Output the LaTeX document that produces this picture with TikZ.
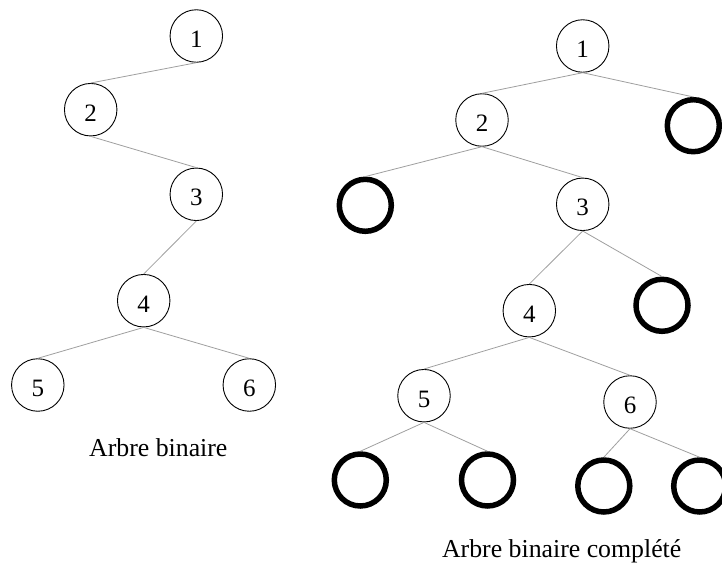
\documentclass[tikz,border=0pt]{standalone}
\usepackage{fontspec}
\setmainfont{Liberation Serif}
\begin{document}
\begin{tikzpicture}[x=1pt,y=-1pt,
  vertex/.style={circle,draw,line width=0.9pt,minimum size=52.5pt,inner sep=0pt,
    text height=23pt,font=\fontsize{25}{25}\selectfont},
  leaf/.style={circle,draw,line width=5.5pt,minimum size=52pt,inner sep=0pt},
  edge/.style={draw=gray!75,line width=0.8pt},
  caption/.style={anchor=base,font=\fontsize{25.8}{26}\selectfont}]
\useasboundingbox (0,0) rectangle (722,567);

% binary tree
\node[vertex] (a1) at (196.3,36) {1};
\node[vertex] (a2) at (90.7,109.7) {2};
\node[vertex] (a3) at (196.3,194.3) {3};
\node[vertex] (a4) at (143.7,300.7) {4};
\node[vertex] (a5) at (37.8,385) {5};
\node[vertex] (a6) at (249.3,385) {6};
\foreach \p/\c in {a1/a2,a2/a3,a3/a4,a4/a5,a4/a6}
  \draw[edge] (\p.south) -- (\c.north);
\node[caption] (capa) at (158.3,456.7) {Arbre binaire};

% completed binary tree
\node[vertex] (b1) at (582.7,46) {1};
\node[vertex] (b2) at (482,120) {2};
\node[leaf]   (e1) at (693.3,125.7) {};
\node[leaf]   (e2) at (365.3,205.3) {};
\node[vertex] (b3) at (582.7,204.3) {3};
\node[vertex] (b4) at (529.3,310.7) {4};
\node[leaf]   (e3) at (662,305.3) {};
\node[vertex] (b5) at (424,395.7) {5};
\node[vertex] (b6) at (630,402) {6};
\node[leaf]   (e4) at (360.3,480) {};
\node[leaf]   (e5) at (487.5,480) {};
\node[leaf]   (e6) at (603.8,486) {};
\node[leaf]   (e7) at (699.7,486) {};
\foreach \p/\c in {b1/b2,b1/e1,b2/e2,b2/b3,b3/b4,b3/e3,b4/b5,b4/b6,b5/e4,b5/e5,b6/e6,b6/e7}
  \draw[edge] (\p.south) -- (\c.north);
\node[caption] (capb) at (561.7,557) {Arbre binaire complété};
\end{tikzpicture}
\end{document}
